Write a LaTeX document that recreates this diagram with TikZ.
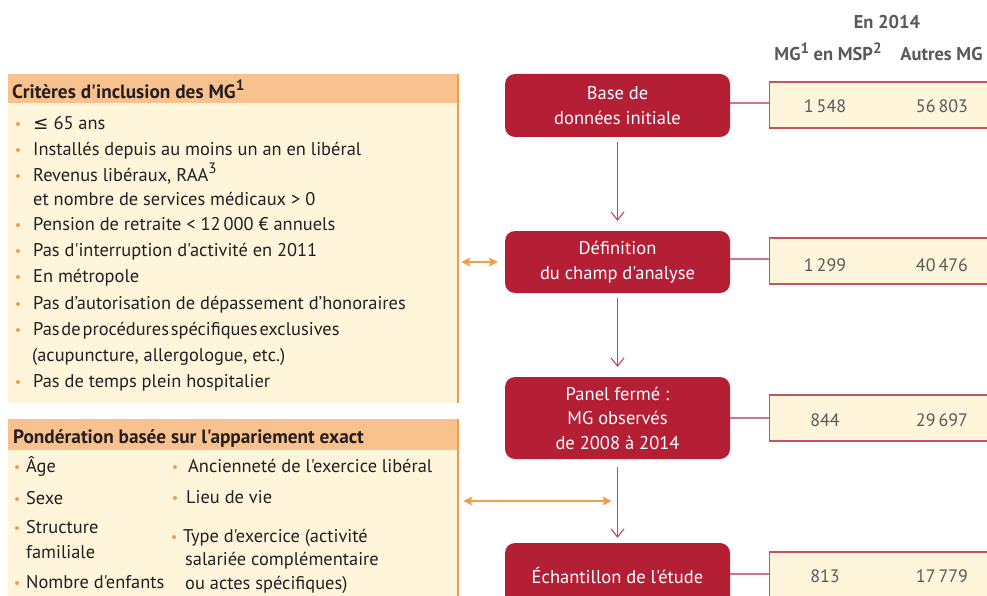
\documentclass[tikz,border=0pt]{standalone}
\usepackage{fontspec}
\setmainfont{PT Sans}[Ligatures=TeXOff]
\newfontfamily\symf{DejaVu Sans}
\usetikzlibrary{arrows.meta,calc}
\definecolor{boxred}{HTML}{B51F35}
\definecolor{hdr}{HTML}{F9C18D}
\definecolor{cream}{HTML}{FEF5DA}
\definecolor{oline}{HTML}{F39C4A}
\definecolor{rline}{HTML}{C4455F}
\definecolor{rbord}{HTML}{C9505F}
\definecolor{numgray}{HTML}{58595B}
\definecolor{txt}{HTML}{231F20}
\newcommand{\supx}[1]{\raisebox{0.42em}{\fontsize{15}{15}\selectfont #1}}
\begin{document}
\begin{tikzpicture}[x=1pt,y=-1pt,
  redbox/.style={fill=boxred, rounded corners=10pt, minimum width=225pt, text=white, align=center, font=\fontsize{18.5}{24.5}\selectfont, inner sep=0pt},
  numbox/.style={draw=rbord, line width=1.2pt, fill=cream, anchor=west, minimum width=240pt, minimum height=46pt, inner sep=0pt},
  numtxt/.style={text=numgray, font=\fontsize{18}{20}\selectfont, inner sep=0pt},
  coltxt/.style={text=numgray, font=\bfseries\fontsize{18.5}{20}\selectfont, inner sep=0pt},
  bodytxt/.style={text=txt, anchor=base west, font=\fontsize{18.4}{20}\selectfont, inner sep=0pt},
  hdrtxt/.style={text=txt, anchor=base west, font=\bfseries\fontsize{19.3}{20}\selectfont, inner sep=0pt},
  bul/.style={circle, fill=oline, minimum size=4pt, inner sep=0pt},
  panel/.style={fill=cream, anchor=north west, minimum width=450pt, inner sep=0pt},
  band/.style={fill=hdr, anchor=north west, minimum width=450pt, minimum height=29pt, inner sep=0pt},
  flow/.style={draw=rline, line width=1.1pt, -{Straight Barb[length=8pt,width=13pt]}},
  link/.style={draw=rline!75, line width=1.1pt},
  oarrow/.style={draw=oline, line width=2pt, {Stealth[length=9pt,width=9pt,inset=2pt]}-{Stealth[length=9pt,width=9pt,inset=2pt]}}
]
\clip (0,0) rectangle (987,596);
\fill[white] (0,0) rectangle (987,596);

% column header
\node[coltxt] (year) at (887,22) {En 2014};
\node[coltxt, anchor=base] (colA) at (828,61) {MG\supx{1} en MSP\supx{2}};
\node[coltxt, anchor=base] (colB) at (941.5,61) {Autres MG};

% left panel 1
\node[panel, minimum height=329pt] (crit) at (8,74) {};
\node[band] (crith) at (8,74) {};
\draw[oline, line width=2pt] (crit.north east) -- (crit.south east);
\node[hdrtxt] (critt) at (12,99) {Critères d'inclusion des MG\supx{1}};
\foreach \n/\y/\t in {c1/124/{{\symf ≤} 65 ans},
  c2/150/{Installés depuis au moins un an en libéral},
  c3/176/{Revenus libéraux, RAA\supx{3}},
  c5/225/{Pension de retraite < 12\,000 € annuels},
  c6/251/{Pas d'interruption d'activité en 2011},
  c7/277/{En métropole},
  c8/304/{Pas d’autorisation de dépassement d’honoraires},
  c10/382/{Pas de temps plein hospitalier}}{
  \node[bul] (\n b) at (18,\y) {};
  \node[bodytxt] (\n) at (33,\y+5.5) {\t};
}
\node[bodytxt] (c4) at (33,205.5) {et nombre de services médicaux > 0};
\node[bul] (c9b) at (18,330) {};
\node[bodytxt] (c9) at (33,335.5) {\spaceskip=1.8pt plus 0.5pt Pas de procédures spécifiques exclusives};
\node[bodytxt] (c9x) at (32,361.5) {(acupuncture, allergologue, etc.)};

% left panel 2
\node[panel, minimum height=190pt] (pond) at (8,419) {};
\node[band, minimum height=31pt] (pondh) at (8,419) {};
\draw[oline, line width=2pt] (pond.north east) -- (pond.south east);
\node[hdrtxt] (pondt) at (13,443) {Pondération basée sur l'appariement exact};
\foreach \n/\bx/\tx/\y/\t in {p1/17/26/467/{Âge}, p2/17/26/499/{Sexe}, p3/17/26/528/{Structure},
  p5/17/26/583/{Nombre d'enfants}, q1/175/188/467/{Ancienneté de l'exercice libéral},
  q2/175/186/498/{Lieu de vie}, q3/174/183/537/{Type d'exercice (activité}}{
  \node[bul] (\n b) at (\bx,\y) {};
  \node[bodytxt] (\n) at (\tx,\y+5.5) {\t};
}
\node[bodytxt] (p4) at (26,558.5) {familiale};
\node[bodytxt] (q4) at (185,565.5) {salariée complémentaire};
\node[bodytxt] (q5) at (185,589.5) {ou actes spécifiques)};

% flow boxes
\node[redbox, minimum height=63pt] (base) at (617.5,105.5) {Base de\\données initiale};
\node[redbox, minimum height=62pt] (def) at (617.5,262) {Définition\\du champ d'analyse};
\node[redbox, minimum height=82pt] (pan) at (617.5,418) {Panel fermé :\\MG observés\\de 2008 à 2014};
\node[redbox, minimum height=66pt] (ech) at (617.5,576) {\raisebox{-3pt}{Échantillon de l'étude}};

\draw[flow, shorten <=5pt, shorten >=10pt] (base.south) -- (def.north);
\draw[flow, shorten <=5pt, shorten >=10pt] (def.south) -- (pan.north);
\draw[flow, shorten <=8pt, shorten >=5pt] (pan.south) -- (ech.north);

% number boxes
\node[numbox] (n1) at (769,105) {};
\node[numbox] (n2) at (769,261) {};
\node[numbox] (n3) at (769,418) {};
\node[numbox] (n4) at (769,575) {};
\draw[link] (base.east |- 0,103) -- (n1.west |- 0,103);
\draw[link] (def.east |- 0,259) -- (n2.west |- 0,259);
\draw[link] (pan.east |- n3.west) -- (n3.west);
\draw[link] (ech.east |- 0,574) -- (n4.west |- 0,574);
\node[numtxt] (v1a) at (825,106) {1\,548};
\node[numtxt] (v1b) at (942,106) {56\,803};
\node[numtxt] (v2a) at (825,265) {1\,299};
\node[numtxt] (v2b) at (942,265) {40\,476};
\node[numtxt] (v3a) at (825,420) {844};
\node[numtxt] (v3b) at (942,420) {29\,697};
\node[numtxt] (v4a) at (825,576) {813};
\node[numtxt] (v4b) at (942,576) {17\,779};

% orange arrows
\draw[oarrow, shorten <=3pt, shorten >=7pt] (crit.east |- def.west) -- (def.west);
\coordinate (mid3) at ($(pan.south)!0.5!(ech.north)$);
\draw[oarrow, shorten <=5pt, shorten >=6pt] (pond.east |- mid3) -- (mid3);
\end{tikzpicture}
\end{document}
